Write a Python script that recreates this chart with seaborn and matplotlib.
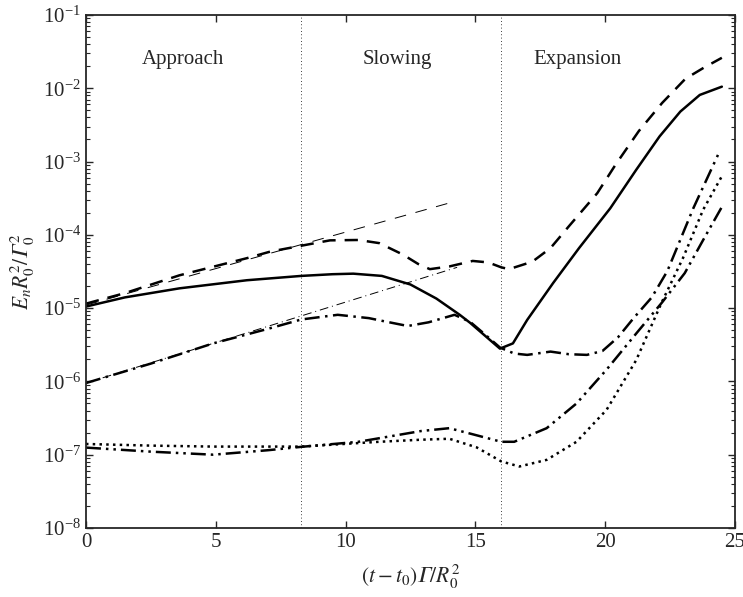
import numpy as np
import seaborn as sns
import matplotlib.pyplot as plt
from matplotlib.ticker import LogLocator, NullFormatter, NullLocator

# energy curves (x = (t-t0)Gamma/R0^2)
x_dash = [0, 1.5, 3.6, 6.2, 7.1, 8.3, 9.4, 10.5, 11.3, 12.2, 12.8, 13.25, 14.0, 14.9,
          15.5, 16.0, 16.3, 17.2, 17.9, 18.6, 19.7, 20.4, 21.3, 22.2, 23.1, 23.8, 24.5]
y_dash = [1.15e-5, 1.6e-5, 2.8e-5, 4.8e-5, 5.9e-5, 7.1e-5, 8.4e-5, 8.5e-5, 7.7e-5, 5.4e-5,
          4.0e-5, 3.4e-5, 3.7e-5, 4.4e-5, 4.2e-5, 3.6e-5, 3.4e-5, 4.3e-5, 6.6e-5, 1.3e-4,
          3.7e-4, 9.0e-4, 2.6e-3, 6.3e-3, 1.35e-2, 1.9e-2, 2.6e-2]

x_solid = [0, 1.5, 3.6, 6.2, 8.3, 9.5, 10.3, 11.4, 12.5, 13.5, 14.4, 14.8, 15.95, 16.45,
           17.0, 18.0, 19.0, 20.2, 21.2, 22.1, 22.9, 23.65, 24.5]
y_solid = [1.05e-5, 1.4e-5, 1.86e-5, 2.4e-5, 2.75e-5, 2.9e-5, 2.95e-5, 2.75e-5, 2.1e-5,
           1.35e-5, 8.1e-6, 6.3e-6, 2.8e-6, 3.3e-6, 6.9e-6, 2.2e-5, 6.6e-5, 2.3e-4, 7.7e-4,
           2.2e-3, 4.8e-3, 8.1e-3, 1.05e-2]

x_dashdot = [0, 2.5, 4.9, 7.0, 8.3, 9.7, 10.9, 11.5, 12.4, 13.2, 14.2, 14.8, 15.3, 15.95,
             16.5, 17.0, 17.9, 18.6, 19.3, 19.9, 20.5, 21.1, 21.8, 22.4, 23.4, 24.35]
y_dashdot = [9.5e-7, 1.75e-6, 3.3e-6, 5.2e-6, 7.0e-6, 8.1e-6, 7.3e-6, 6.6e-6, 5.7e-6, 6.4e-6,
             8.1e-6, 6.5e-6, 4.6e-6, 2.9e-6, 2.4e-6, 2.3e-6, 2.55e-6, 2.35e-6, 2.3e-6, 2.6e-6,
             4.0e-6, 7.3e-6, 1.4e-5, 3.2e-5, 2.3e-4, 1.23e-3]

x_dashdotdot = [0, 2.5, 4.9, 7.0, 8.3, 10.5, 12.9, 14.0, 14.9, 16.0, 16.5, 17.75, 18.9,
                20.06, 21.2, 22.2, 23.07, 23.78, 24.5]
y_dashdotdot = [1.25e-7, 1.1e-7, 1.0e-7, 1.15e-7, 1.28e-7, 1.5e-7, 2.1e-7, 2.3e-7, 1.9e-7,
                1.5e-7, 1.5e-7, 2.3e-7, 5.0e-7, 1.45e-6, 4.5e-6, 1.2e-5, 3.0e-5, 8.5e-5, 2.4e-4]

x_dot = [0, 2.5, 4.9, 8.3, 11.3, 12.9, 14.0, 15.05, 16.0, 16.7, 17.75, 18.9, 20.06, 21.2,
         22.17, 23.0, 23.78, 24.5]
y_dot = [1.4e-7, 1.33e-7, 1.29e-7, 1.29e-7, 1.5e-7, 1.6e-7, 1.65e-7, 1.26e-7, 8.1e-8,
         6.9e-8, 8.5e-8, 1.5e-7, 4.1e-7, 1.95e-6, 1.17e-5, 4.8e-5, 2.2e-4, 6.3e-4]

# exponential-growth reference lines
x_fit1 = [0, 14.05]
y_fit1 = [1.1e-5, 2.75e-4]
x_fit2 = [0, 14.3]
y_fit2 = [9.5e-7, 3.6e-5]

phase_bounds = [8.3, 16.0]
phase_names = ["Approach", "Slowing", "Expansion"]
phase_x = [3.75, 12.0, 18.95]

sns.set_style("ticks", {"xtick.direction": "in", "ytick.direction": "in"})
plt.rcParams['font.family'] = ['Liberation Serif', 'DejaVu Sans']
plt.rcParams['mathtext.fontset'] = 'stix'

fig, ax = plt.subplots(figsize=(7.43, 5.97), dpi=100)
fig.subplots_adjust(left=0.1157, right=0.989, bottom=0.1156, top=0.975)
ax.set_yscale('log')

thick = 1.8
curves = [
    (x_dash, y_dash, thick, (0, (5.3, 3.6))),
    (x_solid, y_solid, thick, '-'),
    (x_dashdot, y_dashdot, thick, (0, (6, 2.2, 1, 2.2))),
    (x_dashdotdot, y_dashdotdot, thick, (0, (6, 2, 1, 2, 1, 2))),
    (x_dot, y_dot, thick, (0, (1, 1.7))),
    (x_fit1, y_fit1, 0.7, (0, (12, 10))),
    (x_fit2, y_fit2, 0.7, (0, (9, 4, 1, 4))),
]
for xs, ys, lw, ls in curves:
    sns.lineplot(x=xs, y=ys, ax=ax, color='black', lw=lw, linestyle=ls,
                 estimator=None, sort=False)

for xb in phase_bounds:
    ax.axvline(xb, color='black', lw=0.6, linestyle=(0, (1, 3)))

for name, xp in zip(phase_names, phase_x):
    ax.text(xp, 10 ** -1.61, name, ha='center', va='center', fontsize=15)

ax.set_xlim(0, 25)
ax.set_ylim(1e-8, 1e-1)
ax.set_xticks([0, 5, 10, 15, 20, 25])
ax.xaxis.set_minor_locator(NullLocator())
ax.yaxis.set_major_locator(LogLocator(base=10, numticks=20))
ax.yaxis.set_minor_locator(LogLocator(base=10, subs=np.arange(2, 10), numticks=20))
ax.yaxis.set_minor_formatter(NullFormatter())
ax.tick_params(which='both', direction='in', top=True, right=True, labelsize=15)
ax.tick_params(which='major', length=5, width=1)
ax.tick_params(which='minor', length=3, width=0.8)
for sp in ax.spines.values():
    sp.set_linewidth(1.3)

ax.set_xlabel('$(t-t_0)𝛤/R_0^2$', fontsize=15.5, labelpad=8)
ax.set_ylabel('$E_nR_0^2/𝛤_0^2$', fontsize=15.5, labelpad=4)

fig.savefig('out.png', dpi=100)
